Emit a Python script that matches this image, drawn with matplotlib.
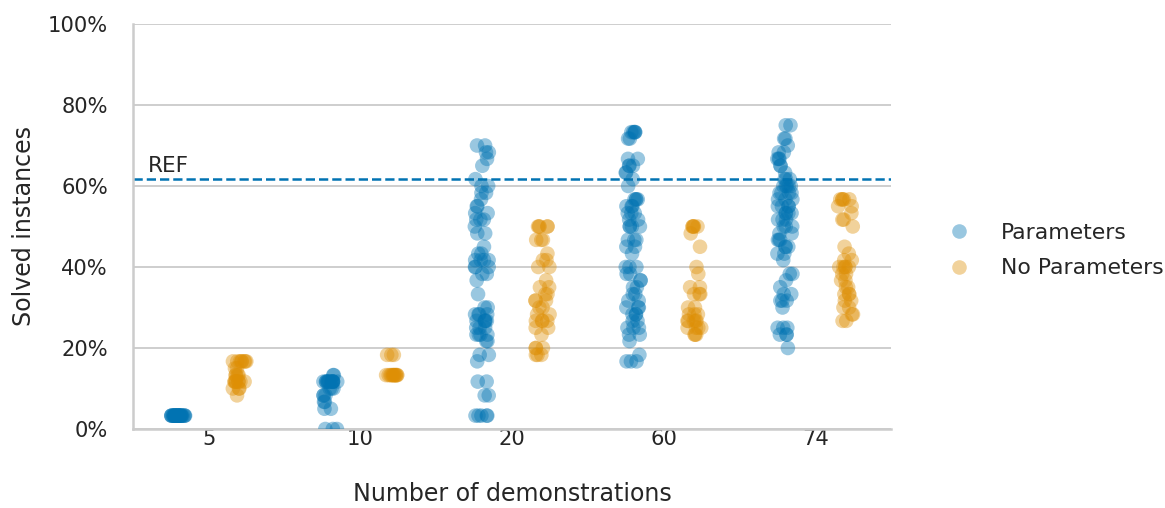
import numpy as np
import pandas as pd
import matplotlib
matplotlib.use("Agg")
import matplotlib.pyplot as plt
from matplotlib.ticker import PercentFormatter
import seaborn as sns

# ---- data (percent of solved instances), values with repeat counts ----
demos = ["5", "10", "20", "60", "74"]
conditions = ["Parameters", "No Parameters"]
ref_value = 61.7

p5_vals = [3.3]
p5_cnts = [30]
n5_vals = [16.7, 15.0, 13.3, 11.7, 10.0, 8.3]
n5_cnts = [8, 2, 4, 8, 3, 1]

p10_vals = [13.3, 11.7, 10.0, 8.3, 6.7, 5.0, 0.0]
p10_cnts = [2, 14, 3, 3, 2, 2, 3]
n10_vals = [18.3, 13.3]
n10_cnts = [3, 12]

p20_vals = [70.0, 68.3, 66.7, 65.0, 61.7, 60.0, 58.3, 56.7, 55.0, 53.3, 51.7, 50.0,
            48.3, 45.0, 43.3, 41.7, 40.0, 38.3, 36.7, 33.3, 30.0, 28.3, 26.7, 25.0,
            23.3, 21.7, 18.3, 16.7, 11.7, 8.3, 3.3]
p20_cnts = [2, 2, 1, 1, 1, 2, 2, 1, 2, 2, 3, 1,
            2, 1, 2, 4, 3, 2, 1, 1, 2, 4, 5, 3,
            4, 2, 2, 1, 2, 2, 5]
n20_vals = [50.0, 46.7, 43.3, 41.7, 40.0, 36.7, 35.0, 33.3, 31.7, 30.0, 28.3, 26.7,
            25.0, 23.3, 20.0, 18.3]
n20_cnts = [5, 3, 1, 2, 2, 1, 2, 2, 3, 2, 2, 4,
            2, 1, 3, 3]

p60_vals = [73.3, 71.7, 66.7, 65.0, 63.3, 61.7, 60.0, 56.7, 55.0, 53.3, 51.7, 50.0,
            46.7, 45.0, 43.3, 40.0, 38.3, 36.7, 35.0, 33.3, 31.7, 30.0, 28.3, 26.7,
            25.0, 23.3, 21.7, 18.3, 16.7]
p60_cnts = [5, 2, 2, 3, 2, 1, 1, 4, 3, 3, 2, 4,
            3, 2, 1, 3, 2, 2, 2, 2, 2, 3, 3, 2,
            3, 2, 1, 1, 3]
n60_vals = [50.0, 48.3, 45.0, 40.0, 38.3, 35.0, 33.3, 30.0, 28.3, 26.7, 25.0, 23.3]
n60_cnts = [5, 1, 1, 1, 1, 2, 3, 2, 3, 5, 4, 3]

p74_vals = [75.0, 71.7, 70.0, 68.3, 66.7, 65.0, 63.3, 61.7, 60.0, 58.3, 56.7, 55.0,
            53.3, 51.7, 50.0, 48.3, 46.7, 45.0, 43.3, 41.7, 38.3, 36.7, 35.0, 33.3,
            31.7, 30.0, 25.0, 23.3, 20.0]
p74_cnts = [2, 2, 1, 2, 3, 2, 1, 3, 5, 4, 3, 4,
            4, 3, 3, 2, 3, 3, 2, 1, 2, 1, 1, 2,
            3, 1, 3, 3, 1]
n74_vals = [56.7, 55.0, 53.3, 51.7, 50.0, 45.0, 43.3, 41.7, 40.0, 38.3, 36.7, 35.0,
            33.3, 31.7, 30.0, 28.3, 26.7]
n74_cnts = [5, 2, 1, 2, 1, 1, 1, 2, 5, 2, 2, 2,
            3, 2, 2, 2, 2]

series = {
    ("5", "Parameters"): (p5_vals, p5_cnts),
    ("5", "No Parameters"): (n5_vals, n5_cnts),
    ("10", "Parameters"): (p10_vals, p10_cnts),
    ("10", "No Parameters"): (n10_vals, n10_cnts),
    ("20", "Parameters"): (p20_vals, p20_cnts),
    ("20", "No Parameters"): (n20_vals, n20_cnts),
    ("60", "Parameters"): (p60_vals, p60_cnts),
    ("60", "No Parameters"): (n60_vals, n60_cnts),
    ("74", "Parameters"): (p74_vals, p74_cnts),
    ("74", "No Parameters"): (n74_vals, n74_cnts),
}

rows = []
for (d, c), (vals, cnts) in series.items():
    for v in np.repeat(vals, cnts):
        rows.append({"demos": d, "cond": c, "solved": v})
df = pd.DataFrame(rows)

# ---- style ----
sns.set_theme(style="whitegrid", context="paper")
plt.rcParams["font.family"] = ["DejaVu Sans"]
palette = sns.color_palette("colorblind")

W, H, DPI = 1165, 508, 150
fig = plt.figure(figsize=(W / DPI, H / DPI), dpi=DPI)
ax = fig.add_axes([133 / W, 1 - 429 / H, (891 - 133) / W, (429 - 24) / H])

np.random.seed(3)
sns.stripplot(data=df, x="demos", y="solved", hue="cond", order=demos,
              hue_order=conditions, dodge=True, jitter=True, alpha=0.4,
              size=7, linewidth=0, palette=palette[:2], ax=ax)

ax.axhline(ref_value, color=palette[0], linestyle="--", linewidth=1.2, zorder=1)
ax.text(-0.4, ref_value + 0.8, "REF", fontsize=10.3, color="#262626",
        ha="left", va="bottom")

ax.set_ylim(0, 100)
ax.set_xlim(-0.5, 4.5)
ax.set_yticks([0, 20, 40, 60, 80, 100])
ax.yaxis.set_major_formatter(PercentFormatter(decimals=0))
ax.grid(axis="x", visible=False)
ax.grid(axis="y", color="#cccccc", linewidth=0.9)
ax.set_axisbelow(True)
for s in ["top", "right"]:
    ax.spines[s].set_visible(False)
for s in ["left", "bottom"]:
    ax.spines[s].set_color("#cccccc")
    ax.spines[s].set_linewidth(1.2)
ax.tick_params(axis="y", labelsize=10.1, pad=12, colors="#262626", length=0)
ax.tick_params(axis="x", labelsize=10.1, pad=0, colors="#262626", length=0)
ax.set_xlabel("Number of demonstrations", fontsize=11.4, color="#262626",
              labelpad=16)
ax.set_ylabel("Solved instances", fontsize=11.4, color="#262626", labelpad=5.5)

handles, labels = ax.get_legend_handles_labels()
leg = ax.legend(handles, labels, loc="center left", bbox_to_anchor=(1.035, 0.44),
                frameon=False, fontsize=10.5, handletextpad=0.9, labelspacing=0.7)

fig.savefig("out.png", dpi=DPI)
